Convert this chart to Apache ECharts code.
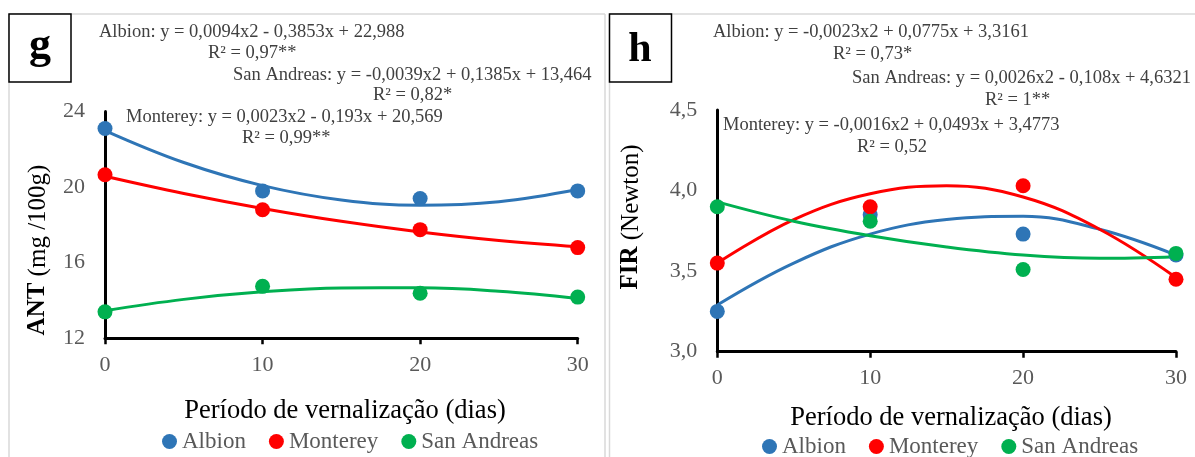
<!DOCTYPE html>
<html>
<head>
<meta charset="utf-8">
<script src="https://cdn.jsdelivr.net/npm/echarts@6/dist/echarts.min.js"></script>
<style>
html,body{margin:0;padding:0;background:#fff;}
#c{width:1195px;height:457px;}
</style>
</head>
<body>
<div id="c"></div>
<script>
// ---- data ----
var seriesNames = ['Albion', 'Monterey', 'San Andreas'];
var days = [0, 10, 20, 30];
var trendDays = [0, 5, 10, 15, 20, 25, 30];

// panel g : ANT (mg /100g)
var antAlbion = [23.1, 19.8, 19.4, 19.8];
var antMonterey = [20.65, 18.8, 17.75, 16.8];
var antSanAndreas = [13.4, 14.75, 14.38, 14.18];
var antTrendAlbion = [22.99, 21.30, 20.08, 19.32, 19.04, 19.23, 19.87];
var antTrendMonterey = [20.57, 19.66, 18.87, 18.19, 17.63, 17.18, 16.85];
var antTrendSanAndreas = [13.46, 14.06, 14.46, 14.66, 14.67, 14.49, 14.11];
var antTicks = [12, 16, 20, 24];

// panel h : FIR (Newton)
var firAlbion = [3.25, 3.85, 3.73, 3.60];
var firMonterey = [3.55, 3.90, 4.03, 3.45];
var firSanAndreas = [3.90, 3.81, 3.51, 3.61];
var firTrendAlbion = [3.29, 3.55, 3.73, 3.82, 3.84, 3.76, 3.60];
var firTrendMonterey = [3.55, 3.82, 3.98, 4.03, 3.96, 3.76, 3.46];
var firTrendSanAndreas = [3.93, 3.81, 3.72, 3.65, 3.60, 3.58, 3.59];
var firTicks = ['3,0', '3,5', '4,0', '4,5'];

var eqG = [
  'Albion: y = 0,0094x2 - 0,3853x + 22,988', 'R² = 0,97**',
  'San Andreas: y = -0,0039x2 + 0,1385x + 13,464', 'R² = 0,82*',
  'Monterey: y = 0,0023x2 - 0,193x + 20,569', 'R² = 0,99**'
];
var eqH = [
  'Albion: y = -0,0023x2 + 0,0775x + 3,3161', 'R² = 0,73*',
  'San Andreas: y = 0,0026x2 - 0,108x + 4,6321', 'R² = 1**',
  'Monterey: y = -0,0016x2 + 0,0493x + 3,4773', 'R² = 0,52'
];
var xTitle = 'Período de vernalização (dias)';

// ---- styling ----
var colors = ['#2E75B6', '#FF0000', '#00B050'];
var FONT = 'Liberation Serif';

function pairs(xs, ys) { return xs.map(function (x, i) { return [x, ys[i]]; }); }

function xAxisCfg(gridIndex) {
  return {
    type: 'value', gridIndex: gridIndex, min: 0, max: 30, interval: 10,
    splitLine: {show: false},
    axisLine: {show: true, onZero: false, lineStyle: {color: '#000', width: 3}},
    axisTick: {show: true, length: 6, lineStyle: {color: '#000', width: 2.5}},
    axisLabel: {color: '#595959', fontFamily: FONT, fontSize: 22, margin: 16}
  };
}
function yAxisCfg(gridIndex, min, max, interval, fmt) {
  return {
    type: 'value', gridIndex: gridIndex, min: min, max: max, interval: interval,
    splitLine: {show: false},
    axisLine: {show: true, onZero: false, lineStyle: {color: '#000', width: 3}},
    axisTick: {show: false},
    axisLabel: {color: '#595959', fontFamily: FONT, fontSize: 22, margin: 20, formatter: fmt}
  };
}

var series = [];
var antScatter = [antAlbion, antMonterey, antSanAndreas];
var antTrend = [antTrendAlbion, antTrendMonterey, antTrendSanAndreas];
var firScatter = [firAlbion, firMonterey, firSanAndreas];
var firTrend = [firTrendAlbion, firTrendMonterey, firTrendSanAndreas];

[antTrend, firTrend].forEach(function (set, g) {
  set.forEach(function (ys, i) {
    series.push({
      type: 'line', name: seriesNames[i] + ' trend', xAxisIndex: g, yAxisIndex: g,
      data: pairs(trendDays, ys), smooth: 0.4, showSymbol: false, symbol: 'none',
      lineStyle: {color: colors[i], width: 3}, itemStyle: {color: colors[i]},
      silent: true, z: 2
    });
  });
});
[antScatter, firScatter].forEach(function (set, g) {
  set.forEach(function (ys, i) {
    series.push({
      type: 'scatter', name: seriesNames[i], xAxisIndex: g, yAxisIndex: g,
      data: pairs(days, ys), symbol: 'circle', symbolSize: 15,
      itemStyle: {color: colors[i], opacity: 1}, z: 3 + i
    });
  });
});

function eqTexts(list, pos) {
  return list.map(function (t, i) {
    return {
      type: 'text', x: pos[i][0], y: pos[i][1],
      style: {text: t, fill: '#404040', font: '18.5px "Liberation Serif"',
              textAlign: 'left', textVerticalAlign: 'middle'}
    };
  });
}

var graphics = [
  // panel borders
  {type: 'line', shape: {x1: 9, y1: 14, x2: 9, y2: 457}, style: {stroke: '#d9d9d9', lineWidth: 1.5}},
  {type: 'line', shape: {x1: 9, y1: 14, x2: 605, y2: 14}, style: {stroke: '#d9d9d9', lineWidth: 1.5}},
  {type: 'line', shape: {x1: 605, y1: 14, x2: 605, y2: 457}, style: {stroke: '#d9d9d9', lineWidth: 1.5}},
  {type: 'line', shape: {x1: 609.5, y1: 14, x2: 609.5, y2: 457}, style: {stroke: '#d9d9d9', lineWidth: 1.5}},
  {type: 'line', shape: {x1: 609.5, y1: 14, x2: 1195, y2: 14}, style: {stroke: '#d9d9d9', lineWidth: 1.5}},
  // letter boxes
  {type: 'rect', shape: {x: 9, y: 14, width: 62, height: 68}, style: {fill: '#fff', stroke: '#000', lineWidth: 1.5}},
  {type: 'text', x: 40, y: 47, style: {text: 'g', font: 'bold 44px "Liberation Serif"', fill: '#000', textAlign: 'center', textVerticalAlign: 'middle'}},
  {type: 'rect', shape: {x: 609.5, y: 14, width: 62, height: 68}, style: {fill: '#fff', stroke: '#000', lineWidth: 1.5}},
  {type: 'text', x: 640, y: 50, style: {text: 'h', font: 'bold 42px "Liberation Serif"', fill: '#000', textAlign: 'center', textVerticalAlign: 'middle'}},
  // axis titles
  {type: 'text', x: 345, y: 411, style: {text: xTitle, font: '26.5px "Liberation Serif"', fill: '#000', textAlign: 'center', textVerticalAlign: 'middle'}},
  {type: 'text', x: 951, y: 418, style: {text: xTitle, font: '26.5px "Liberation Serif"', fill: '#000', textAlign: 'center', textVerticalAlign: 'middle'}},
  {type: 'text', x: 38, y: 250, rotation: Math.PI / 2,
   style: {text: '{b|ANT} (mg /100g)', font: '25px "Liberation Serif"', fill: '#000', textAlign: 'center', textVerticalAlign: 'middle',
           rich: {b: {fontWeight: 'bold', fontFamily: FONT, fontSize: 25, fill: '#000'}}}},
  {type: 'text', x: 631, y: 217, rotation: Math.PI / 2,
   style: {text: '{b|FIR} (Newton)', font: '25px "Liberation Serif"', fill: '#000', textAlign: 'center', textVerticalAlign: 'middle',
           rich: {b: {fontWeight: 'bold', fontFamily: FONT, fontSize: 25, fill: '#000'}}}}
].concat(
  eqTexts(eqG, [[99, 32], [208, 53], [233, 75], [373, 95], [126, 117], [242, 138]]),
  eqTexts(eqH, [[713, 32], [833, 54], [852, 78], [985, 100], [723, 125], [857, 147]])
);

var legendText = {
  color: '#595959', fontFamily: FONT, fontSize: 23,
  rich: {s: {color: '#595959', fontFamily: FONT, fontSize: 23}}
};
function legendFmt(name) { return '{s|' + name + '}'; }

var chart = echarts.init(document.getElementById('c'), null, {renderer: 'canvas'});
chart.setOption({
  backgroundColor: '#fff',
  animation: false,
  textStyle: {fontFamily: FONT},
  grid: [
    {left: 105, top: 111.5, width: 472.7, height: 226.8},
    {left: 717.3, top: 110, width: 458.7, height: 241.7}
  ],
  xAxis: [xAxisCfg(0), xAxisCfg(1)],
  yAxis: [
    yAxisCfg(0, antTicks[0], antTicks[antTicks.length - 1], 4, function (v) { return String(v); }),
    yAxisCfg(1, 3, 4.5, 0.5, function (v) { return v.toFixed(1).replace('.', ','); })
  ],
  legend: [
    {data: seriesNames, left: 157, top: 425, icon: 'circle', itemWidth: 15, itemHeight: 15, itemGap: 23,
     formatter: legendFmt, textStyle: legendText, selectedMode: false},
    {data: seriesNames, left: 757, top: 430, icon: 'circle', itemWidth: 15, itemHeight: 15, itemGap: 23,
     formatter: legendFmt, textStyle: legendText, selectedMode: false}
  ],
  series: series,
  graphic: graphics
});
</script>
</body>
</html>
